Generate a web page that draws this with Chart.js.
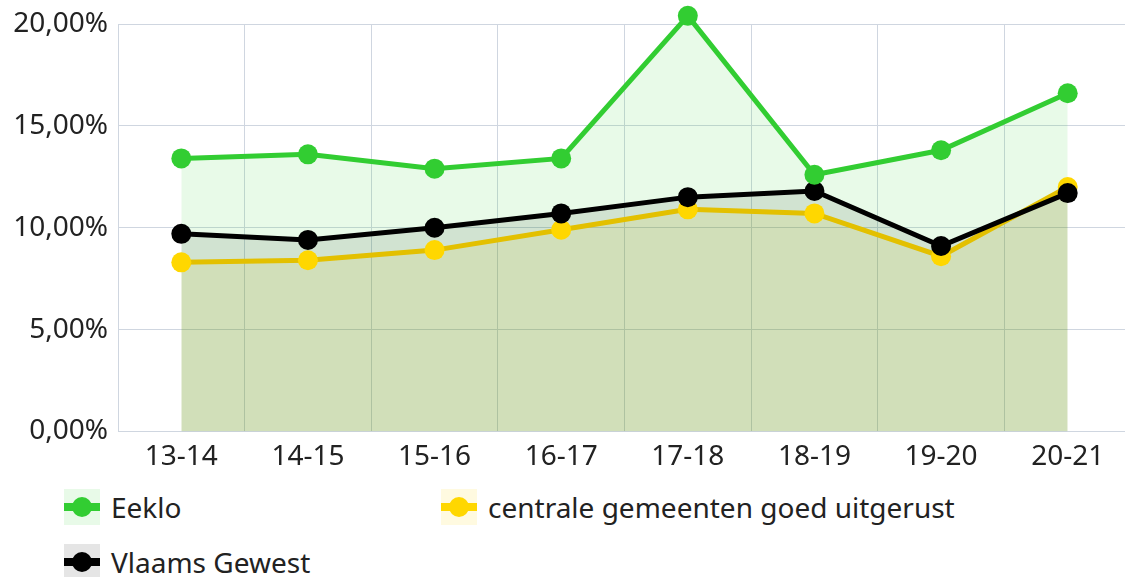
<!DOCTYPE html>
<html>
<head>
<meta charset="utf-8">
<script src="https://cdn.jsdelivr.net/npm/chart.js@4/dist/chart.umd.min.js"></script>
<style>
  body { margin: 0; overflow: hidden; background: #fff; font-family: "Noto Sans", sans-serif; }
  #wrap { position: relative; width: 1141px; height: 483px; }
  #legend { position: absolute; left: 64px; top: 489px; width: 1000px; }
  .item { position: absolute; display: flex; align-items: center; height: 36px; font-size: 28px; color: #222; white-space: nowrap; }
  .icon { position: relative; width: 36px; height: 36px; margin-right: 11px; }
  .icon .ln { position: absolute; left: 0; right: 0; top: 14px; height: 8px; }
  .icon .dot { position: absolute; left: 8px; top: 8px; width: 20px; height: 20px; border-radius: 50%; }
</style>
</head>
<body>
<div id="wrap"><canvas id="chart"></canvas></div>
<div id="legend"></div>
<script>
const labels = ['13-14', '14-15', '15-16', '16-17', '17-18', '18-19', '19-20', '20-21'];
const eeklo = [13.4, 13.6, 12.9, 13.4, 20.4, 12.6, 13.8, 16.6];
const centrale = [8.3, 8.4, 8.9, 9.9, 10.9, 10.7, 8.6, 12.0];
const vlaams = [9.7, 9.4, 10.0, 10.7, 11.5, 11.8, 9.1, 11.7];
const yTicks = [0, 5, 10, 15, 20];

const series = [
  { label: 'Eeklo', data: eeklo, line: '#32cd32', point: '#32cd32', fill: 'rgba(50, 205, 50, 0.11)', order: 0 },
  { label: 'centrale gemeenten goed uitgerust', data: centrale, line: '#e3c000', point: '#ffd700', fill: 'rgba(255, 215, 0, 0.12)', order: 2 },
  { label: 'Vlaams Gewest', data: vlaams, line: '#000000', point: '#000000', fill: 'rgba(0, 0, 0, 0.1)', order: 1 }
];

const gridColor = '#cfd6e0';
const fmt = v => v.toFixed(2).replace('.', ',') + '%';

new Chart(document.getElementById('chart'), {
  type: 'line',
  data: {
    labels: labels,
    datasets: series.map(s => ({
      label: s.label,
      data: s.data,
      order: s.order,
      borderColor: s.line,
      backgroundColor: s.fill,
      pointBackgroundColor: s.point,
      pointBorderColor: s.point,
      pointBorderWidth: 0,
      pointRadius: 10,
      borderWidth: 5,
      fill: 'origin',
      tension: 0,
      clip: false
    }))
  },
  options: {
    responsive: true,
    maintainAspectRatio: false,
    animation: false,
    layout: { padding: { top: 0, left: 0, right: 0, bottom: 0 } },
    plugins: {
      legend: { display: false },
      tooltip: { enabled: false },
      filler: { drawTime: 'beforeDatasetsDraw' }
    },
    scales: {
      x: {
        offset: true,
        grid: { offset: true, color: gridColor, drawTicks: false },
        border: { color: gridColor },
        ticks: { color: '#222', font: { family: 'Noto Sans', size: 28 }, padding: 9, maxRotation: 0 }
      },
      y: {
        min: 0,
        max: 20,
        afterBuildTicks: scale => { scale.ticks = yTicks.map(v => ({ value: v })); },
        afterFit: scale => { scale.width = 118; },
        grid: { color: gridColor, drawTicks: false },
        border: { color: gridColor },
        ticks: { color: '#222', font: { family: 'Noto Sans', size: 28, lineHeight: 1.0 }, padding: 10, callback: v => fmt(v) }
      }
    }
  }
});

// legend laid out in two columns like the original
const legend = document.getElementById('legend');
series.forEach((s, i) => {
  const item = document.createElement('div');
  item.className = 'item';
  item.style.left = (i % 2) * 377 + 'px';
  item.style.top = Math.floor(i / 2) * 55 + 'px';
  item.innerHTML = '<div class="icon" style="background:' + s.fill + '">' +
    '<div class="ln" style="background:' + s.point + '"></div>' +
    '<div class="dot" style="background:' + s.point + '"></div></div>' +
    '<span>' + s.label + '</span>';
  legend.appendChild(item);
});
</script>
</body>
</html>
